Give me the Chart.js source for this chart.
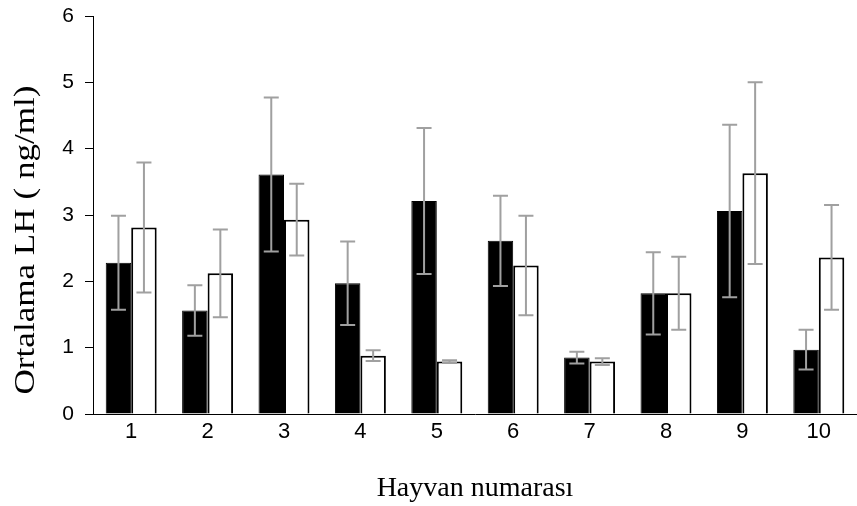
<!DOCTYPE html>
<html>
<head>
<meta charset="utf-8">
<script src="https://cdn.jsdelivr.net/npm/chart.js@4"></script>
<style>
  body { margin: 0; background: #fff; }
</style>
</head>
<body>
<canvas id="lhChart" width="857" height="506"></canvas>
<script>
// hayvan numaraları
const animals = ['1', '2', '3', '4', '5', '6', '7', '8', '9', '10'];

// siyah sütunlar (ortalama ve hata)
const blackMeans = [2.28, 1.56, 3.61, 1.97, 3.21, 2.61, 0.85, 1.82, 3.06, 0.97];
const blackErrors = [0.71, 0.38, 1.16, 0.63, 1.10, 0.68, 0.09, 0.62, 1.30, 0.30];

// beyaz sütunlar (ortalama ve hata)
const whiteMeans = [2.81, 2.12, 2.93, 0.88, 0.79, 2.24, 0.79, 1.82, 3.63, 2.36];
const whiteErrors = [0.98, 0.66, 0.54, 0.08, 0.02, 0.75, 0.05, 0.55, 1.37, 0.79];

const yTicks = [0, 1, 2, 3, 4, 5, 6];
const yTitle = 'Ortalama LH ( ng/ml)';
const xTitle = 'Hayvan numarası';

// hata çubuklarını çizen eklenti
const errorBars = {
    id: 'errorBars',
    afterDatasetsDraw(chart) {
        const ctx = chart.ctx;
        const yScale = chart.scales.y;
        ctx.save();
        ctx.strokeStyle = '#a0a0a0';
        ctx.lineWidth = 2;
        chart.data.datasets.forEach((ds, i) => {
            const meta = chart.getDatasetMeta(i);
            meta.data.forEach((bar, j) => {
                const v = ds.data[j];
                const e = ds.errors[j];
                const top = yScale.getPixelForValue(v + e);
                const bottom = yScale.getPixelForValue(v - e);
                const cap = 7.5;
                ctx.beginPath();
                ctx.moveTo(bar.x, top);
                ctx.lineTo(bar.x, bottom);
                ctx.moveTo(bar.x - cap, top);
                ctx.lineTo(bar.x + cap, top);
                ctx.moveTo(bar.x - cap, bottom);
                ctx.lineTo(bar.x + cap, bottom);
                ctx.stroke();
            });
        });
        ctx.restore();
    }
};

// dikey eksen başlığı (orijinalde biraz uzatılmış)
const yAxisTitle = {
    id: 'yAxisTitle',
    afterDraw(chart) {
        const ctx = chart.ctx;
        const area = chart.chartArea;
        ctx.save();
        ctx.translate(26, (area.top + area.bottom) / 2 + 25);
        ctx.rotate(-Math.PI / 2);
        ctx.scale(1.17, 1);
        ctx.font = '30px "Liberation Serif"';
        ctx.fillStyle = '#000000';
        ctx.textAlign = 'center';
        ctx.textBaseline = 'middle';
        ctx.fillText(yTitle, 0, 0);
        ctx.restore();
    }
};

new Chart(document.getElementById('lhChart'), {
    type: 'bar',
    data: {
        labels: animals,
        datasets: [
            {
                data: blackMeans,
                errors: blackErrors,
                backgroundColor: '#000000',
                borderColor: '#000000',
                borderWidth: 1,
                categoryPercentage: 0.667,
                barPercentage: 1.0
            },
            {
                data: whiteMeans,
                errors: whiteErrors,
                backgroundColor: '#ffffff',
                borderColor: '#000000',
                borderWidth: 2,
                categoryPercentage: 0.667,
                barPercentage: 1.0
            }
        ]
    },
    options: {
        responsive: false,
        animation: false,
        layout: { padding: { top: 16, right: 0, bottom: 0, left: 0 } },
        plugins: {
            legend: { display: false },
            tooltip: { enabled: false }
        },
        scales: {
            x: {
                afterFit(scale) {
                    scale.height = 92;
                },
                grid: { display: false, drawTicks: false },
                border: { display: true, color: '#000000', width: 1 },
                ticks: {
                    color: '#000000',
                    padding: 5,
                    font: { family: 'Liberation Sans', size: 22 }
                },
                title: {
                    display: true,
                    text: xTitle,
                    color: '#000000',
                    padding: { top: 26, bottom: 1 },
                    font: { family: 'Liberation Serif', size: 28 }
                }
            },
            y: {
                min: 0,
                max: 6,
                afterBuildTicks(scale) {
                    scale.ticks = yTicks.map(v => ({ value: v }));
                },
                afterFit(scale) {
                    scale.width = 93;
                    scale.paddingTop = 0;
                    scale.paddingBottom = 0;
                },
                grid: {
                    drawOnChartArea: false,
                    drawTicks: true,
                    tickLength: 8,
                    color: '#000000'
                },
                border: { display: true, color: '#000000', width: 1 },
                ticks: {
                    color: '#000000',
                    padding: 11,
                    font: { family: 'Liberation Sans', size: 21 }
                }
            }
        }
    },
    plugins: [errorBars, yAxisTitle]
});
</script>
</body>
</html>
